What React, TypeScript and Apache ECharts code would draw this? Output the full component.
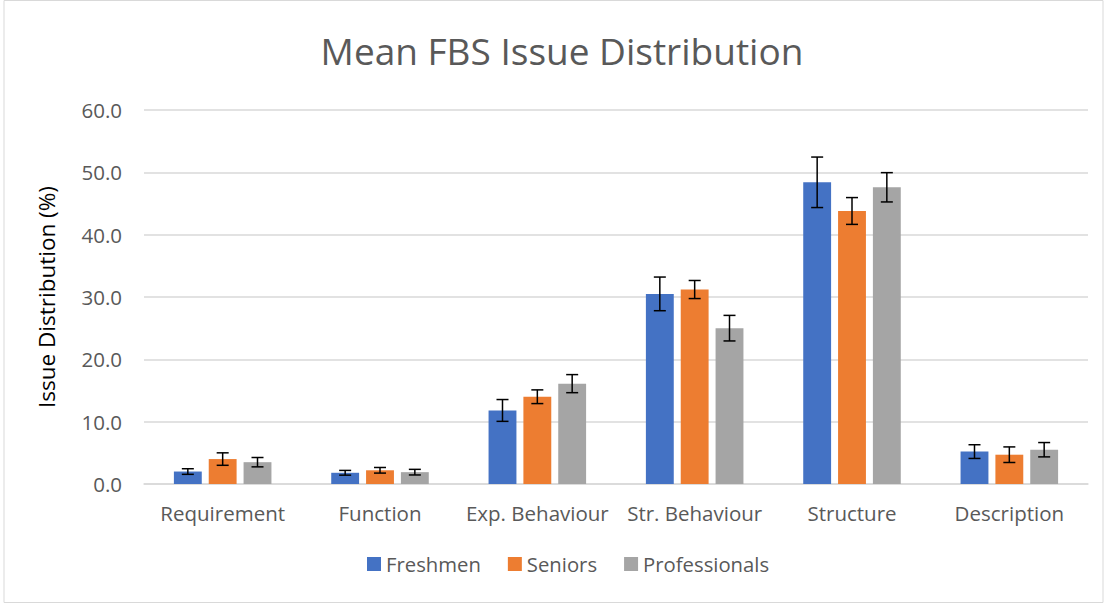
import React, { useEffect, useRef } from "react";
import * as echarts from "echarts";

const categories = ["Requirement", "Function", "Exp. Behaviour", "Str. Behaviour", "Structure", "Description"];
const seriesNames = ["Freshmen", "Seniors", "Professionals"];
const freshmen = [2.0, 1.8, 11.8, 30.5, 48.4, 5.2];
const seniors = [4.0, 2.2, 14.0, 31.2, 43.8, 4.7];
const professionals = [3.5, 1.9, 16.1, 25.0, 47.6, 5.5];
const freshmenErr = [0.45, 0.38, 1.75, 2.7, 4.05, 1.1];
const seniorsErr = [1.0, 0.45, 1.1, 1.45, 2.15, 1.25];
const professionalsErr = [0.75, 0.45, 1.45, 2.05, 2.35, 1.15];
const colors = ["#4472C4", "#ED7D31", "#A5A5A5"];

const FONT = "'Open Sans', sans-serif";
const CAT_GAP = 0.38;
const BAR_GAP = 0.25;

export default function App() {
  const ref = useRef<HTMLDivElement>(null);
  useEffect(() => {
    document.body.style.margin = "0";
    const chart = echarts.init(ref.current!, null, { renderer: "svg" });
    const values = [freshmen, seniors, professionals];
    const errs = [freshmenErr, seniorsErr, professionalsErr];
    const barSeries = values.map((v, i) => ({
      name: seriesNames[i],
      type: "bar",
      data: v,
      itemStyle: { color: colors[i] },
      barGap: BAR_GAP * 100 + "%",
      barCategoryGap: CAT_GAP * 100 + "%",
    }));
    const errSeries = values.map((v, i) => ({
      type: "custom",
      name: seriesNames[i] + " error",
      z: 10,
      silent: true,
      data: v.map((val, j) => [j, val - errs[i][j], val + errs[i][j]]),
      renderItem: (params: any, api: any) => {
        const x = api.value(0);
        const lo = api.coord([x, api.value(1)]);
        const hi = api.coord([x, api.value(2)]);
        const band = api.size([1, 0])[0];
        const w = (band * (1 - CAT_GAP)) / (3 + 2 * BAR_GAP);
        const cx = lo[0] + (i - 1) * w * (1 + BAR_GAP);
        const cap = 6;
        const style = { stroke: "#000", lineWidth: 1.5 };
        return {
          type: "group",
          children: [
            { type: "line", shape: { x1: cx, y1: lo[1], x2: cx, y2: hi[1] }, style },
            { type: "line", shape: { x1: cx - cap, y1: lo[1], x2: cx + cap, y2: lo[1] }, style },
            { type: "line", shape: { x1: cx - cap, y1: hi[1], x2: cx + cap, y2: hi[1] }, style },
          ],
        };
      },
    }));
    chart.setOption({
      animation: false,
      backgroundColor: "#fff",
      textStyle: { fontFamily: FONT },
      title: {
        text: "Mean FBS Issue Distribution",
        left: 557,
        textAlign: "center",
        top: 27,
        textStyle: { fontFamily: FONT, fontSize: 37, fontWeight: "normal", color: "#595959" },
      },
      legend: {
        data: seriesNames,
        bottom: 26,
        left: 362,
        itemWidth: 14,
        itemHeight: 14,
        itemGap: 27,
        icon: "rect",
        textStyle: { fontFamily: FONT, fontSize: 20.3, color: "#595959" },
      },
      grid: { left: 144, right: 19, top: 110, bottom: 121 },
      xAxis: {
        type: "category",
        data: categories,
        axisLine: { lineStyle: { color: "#D9D9D9", width: 1.5 } },
        axisTick: { show: false },
        axisLabel: { interval: 0, hideOverlap: false, fontFamily: FONT, fontSize: 20.5, color: "#595959", margin: 18 },
      },
      yAxis: {
        type: "value",
        min: 0,
        max: 60,
        interval: 10,
        name: "Issue Distribution (%)",
        nameLocation: "middle",
        nameGap: 86,
        nameTextStyle: { fontFamily: FONT, fontSize: 22.5, color: "#000" },
        axisLabel: { fontFamily: FONT, fontSize: 20.5, color: "#595959", margin: 22, formatter: (v: number) => v.toFixed(1) },
        splitLine: { lineStyle: { color: "#D9D9D9", width: 1.5 } },
      },
      graphic: [
        {
          type: "rect",
          shape: { x: 4, y: 0.5, width: 1099, height: 602 },
          style: { fill: "none", stroke: "#D9D9D9", lineWidth: 1 },
          silent: true,
        },
      ],
      series: [...barSeries, ...errSeries],
    });
    return () => chart.dispose();
  }, []);
  return <div ref={ref} style={{ width: 1107, height: 605 }} />;
}
